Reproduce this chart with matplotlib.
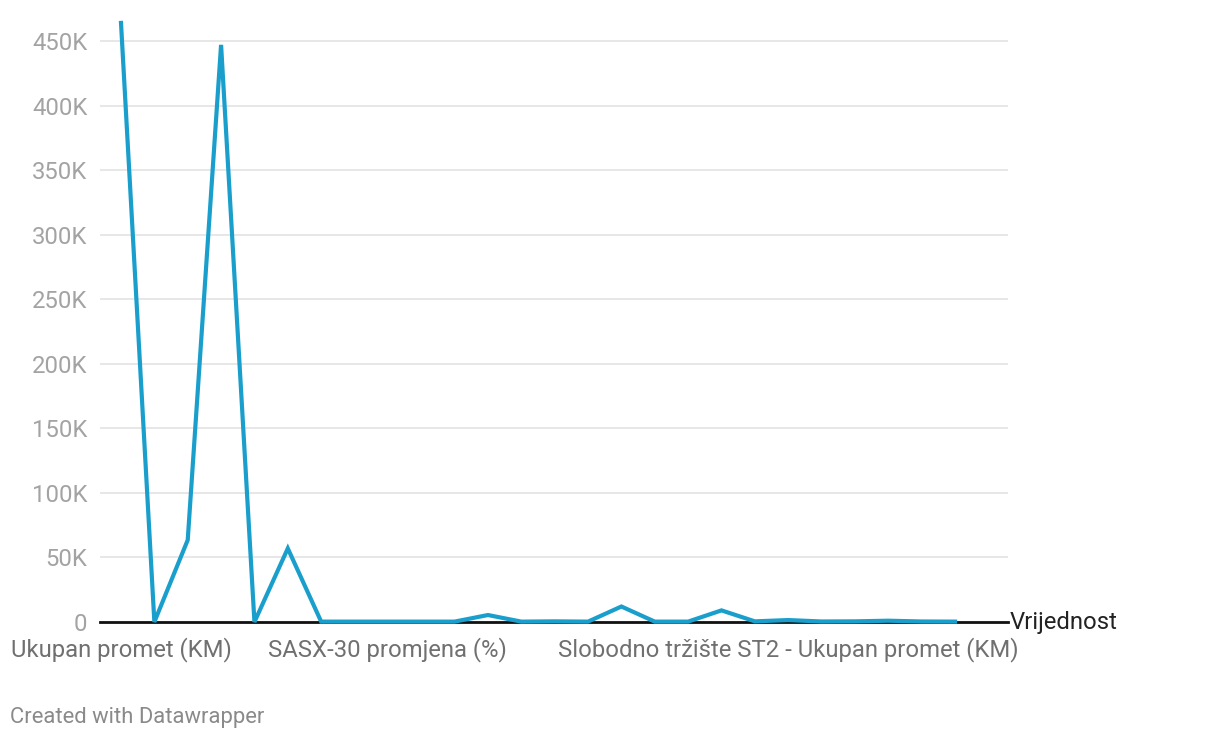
import matplotlib.pyplot as plt
from matplotlib.ticker import FuncFormatter

# values in KM, one per row of the table
values = [464000, 0, 63500, 447000, 0, 57000, 300, 300, 300, 300, 300,
          5400, 300, 500, 300, 12000, 300, 300, 9000, 500, 1500, 400,
          500, 1000, 400, 300]
tick_pos = [0, 8, 20]
tick_labels = ["Ukupan promet (KM)", "SASX-30 promjena (%)",
               "Slobodno tržište ST2 - Ukupan promet (KM)"]
yticks = [0, 50000, 100000, 150000, 200000, 250000, 300000, 350000, 400000, 450000]
series_name = "Vrijednost"

plt.rcParams['font.family'] = ['Roboto', 'DejaVu Sans']

W, H = 1220, 740
fig = plt.figure(figsize=(W / 100, H / 100), dpi=100)
# axes from x=100..1008 px, y bottom at 622 px
ax = fig.add_axes([100 / W, (H - 622) / H, 908 / W, (622 - 15) / H])

x = list(range(len(values)))
ax.plot(x, values, color="#1a9fcc", lw=3, solid_joinstyle="miter", clip_on=False, zorder=3)

step = 33.36
ax.set_xlim(-21 / step, 25 + 53 / step)
ax.set_ylim(0, 450000 * (622 - 15) / 581)

ax.set_yticks(yticks)
ax.yaxis.set_major_formatter(FuncFormatter(lambda v, p: "0" if v == 0 else f"{int(v / 1000)}K"))
ax.grid(axis="y", color="#e3e3e3", lw=1.2)
ax.set_axisbelow(True)
ax.axhline(0, color="#111111", lw=2, zorder=2, clip_on=False)

ax.set_xticks(tick_pos)
ax.set_xticklabels(tick_labels)
ax.tick_params(axis="x", length=0, pad=11, labelsize=17.2, labelcolor="#707070")
ax.tick_params(axis="y", length=0, pad=9, labelsize=17.2, labelcolor="#a3a3a3")

for s in ax.spines.values():
    s.set_visible(False)

ax.text(1.0015, 0, series_name, transform=ax.transAxes,
        ha="left", va="center", fontsize=17.2, color="#222222")

fig.text(10 / W, 1 - 717 / H, "Created with Datawrapper", ha="left", va="center",
         fontsize=15.8, color="#8a8a8a")

fig.savefig("out.png", dpi=100)
